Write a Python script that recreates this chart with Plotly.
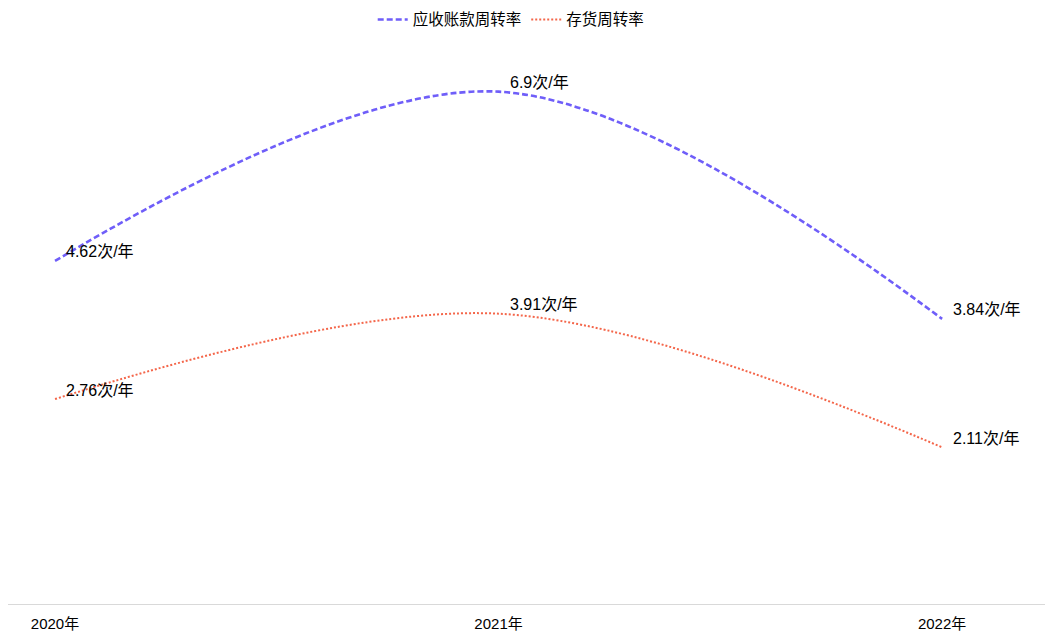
import plotly.graph_objects as go

# data
years = ["2020年", "2021年", "2022年"]
receivable_turnover = [4.62, 6.9, 3.84]
inventory_turnover = [2.76, 3.91, 2.11]
series_names = ["应收账款周转率", "存货周转率"]
unit = "次/年"

font_family = "Liberation Sans, Arial, Noto Sans CJK SC"
purple = "#6F5EF9"
orange = "#F4664A"

fig = go.Figure()
fig.add_trace(go.Scatter(
    x=years, y=receivable_turnover, name=series_names[0],
    mode="lines", line=dict(color=purple, width=2.6, dash="6px,3px", shape="spline", smoothing=1.0),
    hoverinfo="x+y",
))
fig.add_trace(go.Scatter(
    x=years, y=inventory_turnover, name=series_names[1],
    mode="lines", line=dict(color=orange, width=2, dash="2px,2px", shape="spline", smoothing=1.0),
    hoverinfo="x+y",
))

# value labels, to the upper right of each point
annotations = []
for vals in (receivable_turnover, inventory_turnover):
    for yr, v in zip(years, vals):
        annotations.append(dict(
            x=yr, y=v, text=f"{v:g}{unit}", showarrow=False,
            xanchor="left", yanchor="middle", xshift=9, yshift=9,
            font=dict(size=16, color="#000000", family=font_family),
        ))

# page body adds an 8px offset, so the figure is a bit smaller than the window
fig.update_layout(
    width=1045, height=634,
    margin=dict(l=0, r=0, t=2, b=38, autoexpand=False),
    paper_bgcolor="white", plot_bgcolor="white",
    font=dict(family=font_family, size=15, color="#000000"),
    showlegend=True,
    legend=dict(orientation="h", x=0.349, xanchor="left", y=1.012, yanchor="top",
                font=dict(size=15.5), tracegroupgap=0),
    annotations=annotations,
    xaxis=dict(type="category", range=[-0.106, 2.25], showgrid=False, zeroline=False,
               showline=True, linecolor="#d9d9d9", linewidth=1, ticks="",
               ticklabelstandoff=6, tickfont=dict(size=15, color="#000000")),
    yaxis=dict(range=[0, 8], visible=False, showgrid=False, zeroline=False),
)

fig.write_html("out.html")
